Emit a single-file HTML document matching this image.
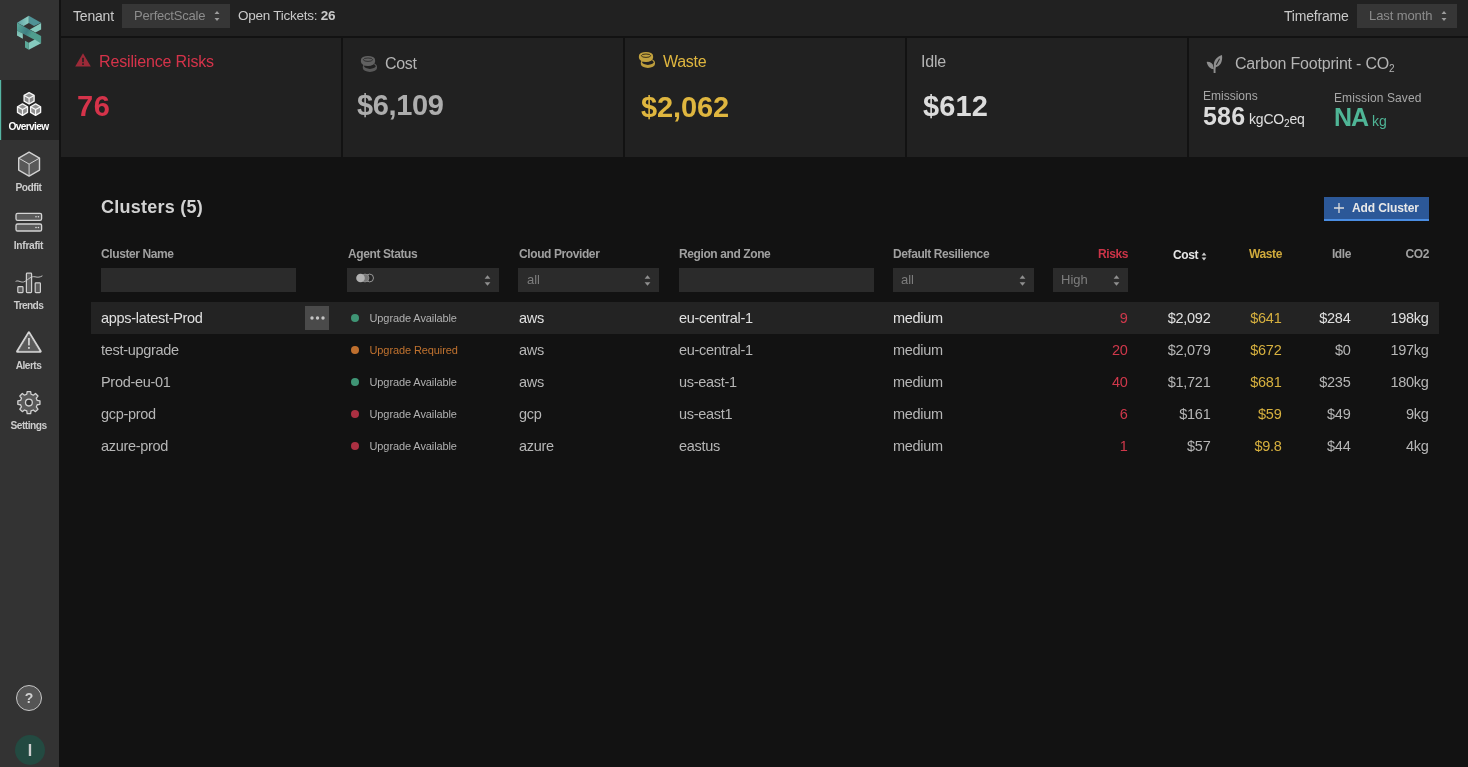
<!DOCTYPE html>
<html lang="en">
<head>
<meta charset="utf-8">
<title>PerfectScale - Overview</title>
<style>
*{box-sizing:border-box;margin:0;padding:0}
html,body{width:1468px;height:767px;overflow:hidden;background:#121212;}
body{font-family:"Liberation Sans",sans-serif;color:#d6d6d6;position:relative;font-size:14px;}
.abs{position:absolute;white-space:nowrap;}
/* sidebar */
#side{position:absolute;left:0;top:0;width:59px;height:767px;background:#333333;}
#side .item{position:absolute;left:-1px;width:59px;text-align:center;font-size:10.2px;font-weight:bold;color:#cccccc;letter-spacing:-0.5px}
#side .active{position:absolute;left:0;top:80px;width:59px;height:60px;background:linear-gradient(90deg,#55b5a3 0,#55b5a3 1px,#2d3d3a 1px,#2d3d3a 2px,#242424 2px);}
#side svg{position:absolute;}
/* topbar */
#top{position:absolute;left:61px;top:0;width:1407px;height:36px;background:#212121;}
.sel{position:absolute;background:#363636;color:#8c8c8c;font-size:13px;height:24px;line-height:24px;}
.sel .arr{position:absolute;right:10px;top:7px;width:6px;height:10px;}
/* cards */
.card{position:absolute;top:38px;height:119px;width:280px;background:#212121;}
.t16{font-size:16px;}
.big{font-size:29px;font-weight:bold;letter-spacing:-0.35px}
/* table */
.th{position:absolute;top:247px;font-size:12px;font-weight:bold;color:#a0a0a0;white-space:nowrap;line-height:14px;letter-spacing:-0.4px}
.flt{position:absolute;top:268px;height:24px;background:#2b2b2b;color:#7d7d7d;font-size:13px;line-height:24px;padding-left:8px}
.row{position:absolute;left:91px;width:1348px;height:32px;font-size:14.5px;line-height:32px;color:#b6b6b6;}
.row span{position:absolute;top:0;white-space:nowrap;letter-spacing:-0.3px}
.row .r{text-align:right;margin-right:0.6px}
.row .red{color:#cf384b}
.row .yel{color:#d6b03f}
.row .st{font-size:11px;color:#b0b0b0;left:278.5px;letter-spacing:-0.1px}
.row .dot{position:absolute;left:259.5px;top:12px;width:8px;height:8px;border-radius:50%;}
.red{color:#d5334a}
.yel{color:#dfb63f}
</style>
</head>
<body>
<div id="side">
<div class="active"></div>
<svg style="left:0;top:0" width="59" height="60" viewBox="0 0 59 60">
<defs><linearGradient id="lg1" x1="0" y1="0" x2="1" y2="0"><stop offset="0" stop-color="#5c9fa3"/><stop offset="1" stop-color="#8fd0c4"/></linearGradient>
<linearGradient id="lg2" x1="0" y1="0" x2="0" y2="1"><stop offset="0" stop-color="#6cb3a8"/><stop offset="1" stop-color="#9ad6ca"/></linearGradient>
<linearGradient id="lg3" x1="0" y1="0" x2="1" y2="0.55"><stop offset="0" stop-color="#5aaa9a"/><stop offset="0.5" stop-color="#3f7f82"/><stop offset="0.7" stop-color="#4f9d8e"/><stop offset="1" stop-color="#4f9d8e"/></linearGradient></defs>
<polygon points="17,22.7 28.8,15.8 28.8,23 23.6,26" fill="url(#lg1)"/>
<polygon points="28.8,15.8 41.1,22.7 34,26 28.8,23" fill="#4f9296"/>
<polygon points="29.9,29.5 41.1,23 41.1,29.5 35.4,32.5" fill="#84c9bd"/>
<polygon points="17,22.7 41.1,36.1 41.1,43.2 17,30.6" fill="url(#lg3)"/>
<polygon points="17,30.6 22.8,33.6 22.8,38.8 17,35.6" fill="url(#lg2)"/>
<polygon points="25,40.8 28.8,42.7 28.8,49.8 25,47.6" fill="#5aa898"/>
<polygon points="28.8,42.7 34.8,39.4 41.1,43.2 41.1,43.2 28.8,49.8" fill="#86cbbf"/>
</svg><svg style="left:0;top:80px" width="59" height="60" viewBox="0 80 59 60"><polygon points="29.10,92.60 34.10,95.45 34.10,101.15 29.10,104.00 24.10,101.15 24.10,95.45" fill="#8e8e8e" stroke="#f6f6f6" stroke-width="1.35" stroke-linejoin="round"/><path d="M24.10 95.45 L29.10 98.30 L34.10 95.45 M29.10 98.30 V104.00" fill="none" stroke="#f6f6f6" stroke-width="1.2"/><polygon points="22.50,103.90 27.50,106.75 27.50,112.45 22.50,115.30 17.50,112.45 17.50,106.75" fill="#8e8e8e" stroke="#f6f6f6" stroke-width="1.35" stroke-linejoin="round"/><path d="M17.50 106.75 L22.50 109.60 L27.50 106.75 M22.50 109.60 V115.30" fill="none" stroke="#f6f6f6" stroke-width="1.2"/><polygon points="35.60,103.90 40.60,106.75 40.60,112.45 35.60,115.30 30.60,112.45 30.60,106.75" fill="#8e8e8e" stroke="#f6f6f6" stroke-width="1.35" stroke-linejoin="round"/><path d="M30.60 106.75 L35.60 109.60 L40.60 106.75 M35.60 109.60 V115.30" fill="none" stroke="#f6f6f6" stroke-width="1.2"/></svg><svg style="left:0;top:140px" width="59" height="60" viewBox="0 140 59 60"><polygon points="29.10,152.10 39.50,158.10 39.50,170.10 29.10,176.10 18.70,170.10 18.70,158.10" fill="#585858" stroke="#d2d2d2" stroke-width="1.4" stroke-linejoin="round"/><path d="M18.70 158.10 L29.10 164.10 L39.50 158.10 M29.10 164.10 V176.10" fill="none" stroke="#d2d2d2" stroke-width="1"/></svg><svg style="left:0;top:200px" width="59" height="60" viewBox="0 200 59 60">
<rect x="16" y="213.3" width="25.6" height="7" rx="1.6" fill="#5a5a5a" stroke="#d4d4d4" stroke-width="1.3"/>
<rect x="16" y="224" width="25.6" height="7" rx="1.6" fill="#5a5a5a" stroke="#d4d4d4" stroke-width="1.3"/>
<circle cx="36" cy="216.8" r="0.8" fill="#ddd"/><circle cx="38.4" cy="216.8" r="0.8" fill="#ddd"/>
<circle cx="36" cy="227.5" r="0.8" fill="#ddd"/><circle cx="38.4" cy="227.5" r="0.8" fill="#ddd"/>
</svg><svg style="left:0;top:260px" width="59" height="60" viewBox="0 260 59 60">
<rect x="17.8" y="286.6" width="5.2" height="6" rx="0.8" fill="#5a5a5a" stroke="#d0d0d0" stroke-width="1.2"/>
<rect x="26.4" y="273.2" width="5.2" height="19.4" rx="0.8" fill="#5a5a5a" stroke="#d0d0d0" stroke-width="1.2"/>
<rect x="35.2" y="282.8" width="5.2" height="9.8" rx="0.8" fill="#5a5a5a" stroke="#d0d0d0" stroke-width="1.2"/>
<path d="M15.6 281.4 C19 279.6 21 283.6 25 281.4 C29 279 31 276 35 276.8 C38 277.6 40 277.2 42.4 275.8" fill="none" stroke="#cfcfcf" stroke-width="0.9"/>
</svg><svg style="left:0;top:320px" width="59" height="60" viewBox="0 320 59 60">
<path d="M28.9 332.6 L40.4 351.5 H17.4 Z" fill="#d4d4d4" stroke="#d4d4d4" stroke-width="2.6" stroke-linejoin="round"/><path d="M28.9 334.2 L38.9 350.7 H18.9 Z" fill="#5a5a5a" stroke="#5a5a5a" stroke-width="0.8" stroke-linejoin="round"/>
<rect x="28.2" y="338" width="1.5" height="7.4" fill="#e8e8e8"/><rect x="28.2" y="347" width="1.5" height="1.8" fill="#e8e8e8"/>
</svg><svg style="left:0;top:380px" width="59" height="60" viewBox="0 380 59 60"><path d="M26.76 394.27 L27.15 391.54 L30.65 391.54 L31.04 394.27 L33.28 395.20 L35.48 393.54 L37.96 396.02 L36.30 398.22 L37.23 400.46 L39.96 400.85 L39.96 404.35 L37.23 404.74 L36.30 406.98 L37.96 409.18 L35.48 411.66 L33.28 410.00 L31.04 410.93 L30.65 413.66 L27.15 413.66 L26.76 410.93 L24.52 410.00 L22.32 411.66 L19.84 409.18 L21.50 406.98 L20.57 404.74 L17.84 404.35 L17.84 400.85 L20.57 400.46 L21.50 398.22 L19.84 396.02 L22.32 393.54 L24.52 395.20 Z" fill="#5a5a5a" stroke="#d2d2d2" stroke-width="1.3" stroke-linejoin="round"/><circle cx="28.9" cy="402.6" r="3.4" fill="#333" stroke="#d2d2d2" stroke-width="1.3"/></svg>
<div class="item" style="top:121px;line-height:12px;color:#fff;letter-spacing:-0.67px">Overview</div>
<div class="item" style="top:182px;line-height:12px;letter-spacing:-0.48px">Podfit</div>
<div class="item" style="top:240px;line-height:12px;letter-spacing:-0.29px">Infrafit</div>
<div class="item" style="top:300px;line-height:12px;letter-spacing:-0.68px">Trends</div>
<div class="item" style="top:360px;line-height:12px;letter-spacing:-0.53px">Alerts</div>
<div class="item" style="top:420px;line-height:12px;letter-spacing:-0.51px">Settings</div>
<div style="position:absolute;left:16px;top:685px;width:26px;height:26px;border-radius:50%;background:#555;border:1px solid #c8c8c8;color:#d0d0d0;font-size:14px;font-weight:bold;line-height:25px;text-align:center">?</div>
<div style="position:absolute;left:15px;top:735px;width:30px;height:30px;border-radius:50%;background:#234a41;color:#cfcfcf;font-size:16px;font-weight:bold;line-height:32px;text-align:center">I</div>
</div>
<div id="top">
<div class="abs" style="left:12px;top:8px;font-size:14px;line-height:16px;color:#c9c9c9;letter-spacing:-0.2px">Tenant</div>
<div class="sel" style="left:61px;top:4px;width:108px;padding-left:12px;letter-spacing:-0.2px">PerfectScale<svg class="arr" viewBox="0 0 6 10"><path d="M3 0 L5.5 3.1 H0.5 Z M3 10 L5.5 6.9 H0.5 Z" fill="#9c9c9c"/></svg></div>
<div class="abs" style="left:177px;top:8px;font-size:13.5px;line-height:16px;color:#c9c9c9;letter-spacing:-0.25px">Open Tickets: <b>26</b></div>
<div class="abs" style="left:1223px;top:8px;font-size:14px;line-height:16px;color:#c9c9c9;letter-spacing:-0.2px">Timeframe</div>
<div class="sel" style="left:1296px;top:4px;width:100px;padding-left:12px;letter-spacing:-0.1px">Last month<svg class="arr" viewBox="0 0 6 10"><path d="M3 0 L5.5 3.1 H0.5 Z M3 10 L5.5 6.9 H0.5 Z" fill="#9c9c9c"/></svg></div>
</div>
<div id="cards">
<div class="card" style="left:61px"><svg class="abs" style="left:14px;top:15px" width="16" height="14" viewBox="0 0 16 14"><path d="M8 0.3 L15.8 13.6 H0.2 Z" fill="#9c2a38"/><rect x="7.2" y="4.8" width="1.6" height="4.4" fill="#212121"/><rect x="7.2" y="10.3" width="1.6" height="1.7" fill="#212121"/></svg>
<div class="abs t16 red" style="left:38px;top:14px;line-height:20px;letter-spacing:-0.15px">Resilience Risks</div>
<div class="abs big red" style="left:16px;top:52px;line-height:32px;font-size:29px;letter-spacing:0.5px">76</div>
</div>
<div class="card" style="left:343px">
<div class="abs" style="left:17px;top:17px"><svg width="18" height="18" viewBox="0 0 18 18"><path d="M2.8 11.5 a7.1 3.9 0 0 1 14.2 0 v1.6 a7.1 3.9 0 0 1 -14.2 0 z" fill="#595959"/><ellipse cx="9.9" cy="11.2" rx="5.6" ry="2.7" fill="#212121"/><path d="M0.9 5 a7.1 4.1 0 0 1 14.2 0 v1.8 a7.1 4.1 0 0 1 -14.2 0 z" fill="#616161"/><ellipse cx="8" cy="4.7" rx="4.6" ry="1.7" fill="#616161" stroke="#2a2a2a" stroke-width="0.9"/></svg></div>
<div class="abs t16" style="left:42px;top:16px;line-height:20px;color:#b4b4b4;letter-spacing:-0.3px">Cost</div>
<div class="abs big" style="left:14px;top:51px;line-height:32px;color:#adadad">$6,109</div>
</div>
<div class="card" style="left:625px">
<div class="abs" style="left:13px;top:13px"><svg width="18" height="18" viewBox="0 0 18 18"><path d="M2.8 11.5 a7.1 3.9 0 0 1 14.2 0 v1.6 a7.1 3.9 0 0 1 -14.2 0 z" fill="#bd9d3c"/><ellipse cx="9.9" cy="11.2" rx="5.6" ry="2.7" fill="#212121"/><path d="M0.9 5 a7.1 4.1 0 0 1 14.2 0 v1.8 a7.1 4.1 0 0 1 -14.2 0 z" fill="#c2a23e"/><ellipse cx="8" cy="4.7" rx="4.6" ry="1.7" fill="#c2a23e" stroke="#2a2416" stroke-width="0.9"/></svg></div>
<div class="abs t16 yel" style="left:38px;top:14px;line-height:20px;letter-spacing:-0.3px">Waste</div>
<div class="abs big yel" style="left:16px;top:53px;line-height:32px;letter-spacing:-0.1px">$2,062</div>
</div>
<div class="card" style="left:907px">
<div class="abs t16" style="left:14px;top:14px;line-height:20px;color:#b4b4b4;letter-spacing:-0.2px">Idle</div>
<div class="abs big" style="left:16px;top:52px;line-height:32px;color:#dcdcdc;letter-spacing:0.1px">$612</div>
</div>
<div class="card" style="left:1189px;width:279px">
<div class="abs" style="left:16px;top:16px"><svg width="19" height="20" viewBox="0 0 19 20"><path d="M17 0.9 C11.5 3 8.2 6.5 8.9 12.6 L10.4 13.3 C15 12 17.9 8 17 0.9 Z" fill="#8e8e8e"/><path d="M1.7 7.9 C5 7.6 7.8 9.2 8.6 13 L8.8 15.2 C5.4 14.8 2.6 12.6 1.7 7.9 Z" fill="#8e8e8e"/><path d="M10.2 11.6 C9.4 14 9.4 16.4 9.6 19" stroke="#8e8e8e" stroke-width="1.9" fill="none"/><path d="M14.6 4.8 L11.3 10.8" stroke="#2a2a2a" stroke-width="1.1"/></svg></div>
<div class="abs t16" style="left:46px;top:16px;line-height:20px;color:#b4b4b4;letter-spacing:-0.2px">Carbon Footprint - CO<sub style="font-size:10px;vertical-align:-3px;line-height:0">2</sub></div>
<div class="abs" style="left:14px;top:51px;font-size:12px;line-height:14px;color:#a8a8a8">Emissions</div>
<div class="abs" style="left:14px;top:64px;font-size:25px;line-height:28px;font-weight:bold;color:#dcdcdc;letter-spacing:0.2px">586</div>
<div class="abs" style="left:60px;top:72px;font-size:14px;line-height:18px;color:#e0e0e0;letter-spacing:-0.2px">kgCO<sub style="font-size:10px;vertical-align:-3px;line-height:0">2</sub>eq</div>
<div class="abs" style="left:145px;top:53px;font-size:12px;line-height:14px;color:#a8a8a8;letter-spacing:0.1px">Emission Saved</div>
<div class="abs" style="left:145px;top:65px;font-size:25px;line-height:28px;font-weight:bold;color:#4fb596;letter-spacing:-1px">NA</div>
<div class="abs" style="left:183px;top:74px;font-size:14px;line-height:18px;color:#4fb596">kg</div>
</div>
</div>
<div id="main">
<div class="abs" style="left:101px;top:196px;font-size:18px;line-height:22px;font-weight:bold;color:#d2d2d2;letter-spacing:0.25px">Clusters (5)</div>
<div class="abs" style="left:1324px;top:197px;width:105px;height:24px;background:#2c5898;border-bottom:2px solid #4a8de2;color:#e8e8e8;font-size:12px;font-weight:bold;line-height:23px;letter-spacing:-0.1px">
<svg style="position:absolute;left:10px;top:6px" width="10" height="10" viewBox="0 0 10 10"><path d="M5 0 V10 M0 5 H10" stroke="#dcdcdc" stroke-width="1.3"/></svg>
<span style="position:absolute;left:28px;top:0">Add Cluster</span></div>
<div class="th" style="left:101px">Cluster Name</div>
<div class="th" style="left:348px">Agent Status</div>
<div class="th" style="left:519px">Cloud Provider</div>
<div class="th" style="left:679px">Region and Zone</div>
<div class="th" style="left:893px">Default Resilience</div>
<div class="th" style="right:340px;color:#cc3448">Risks</div>
<div class="th" style="left:1173px;top:248px;color:#e6e6e6">Cost<svg style="position:absolute;left:28px;top:4px" width="6" height="9" viewBox="0 0 6 9"><path d="M3 0.6 L5.4 3.4 H0.6 Z M3 8.4 L5.4 5.6 H0.6 Z" fill="#cfcfcf"/></svg></div>
<div class="th" style="right:186px;color:#d0aa3c">Waste</div>
<div class="th" style="right:117px">Idle</div>
<div class="th" style="right:39px">CO2</div>
<div class="flt" style="left:101px;width:195px"></div>
<div class="flt" style="left:347px;width:152px"><svg style="position:absolute;left:8.5px;top:4.5px" width="19" height="10" viewBox="0 0 19 10"><circle cx="13.6" cy="5" r="3.9" fill="#262626" stroke="#a4a4a4" stroke-width="0.9"/><circle cx="9" cy="5" r="4" fill="#767676" stroke="#a0a0a0" stroke-width="0.6"/><circle cx="4.5" cy="5" r="4.3" fill="#b2b2b2"/></svg><svg style="position:absolute;right:8.5px;top:6.5px" width="7" height="11" viewBox="0 0 7 11"><path d="M3.5 0.2 L6.4 3.7 H0.6 Z M3.5 10.8 L6.4 7.3 H0.6 Z" fill="#909090"/></svg></div>
<div class="flt" style="left:518px;width:141px;padding-left:9px">all<svg style="position:absolute;right:8.5px;top:6.5px" width="7" height="11" viewBox="0 0 7 11"><path d="M3.5 0.2 L6.4 3.7 H0.6 Z M3.5 10.8 L6.4 7.3 H0.6 Z" fill="#909090"/></svg></div>
<div class="flt" style="left:679px;width:195px"></div>
<div class="flt" style="left:893px;width:141px">all<svg style="position:absolute;right:8.5px;top:6.5px" width="7" height="11" viewBox="0 0 7 11"><path d="M3.5 0.2 L6.4 3.7 H0.6 Z M3.5 10.8 L6.4 7.3 H0.6 Z" fill="#909090"/></svg></div>
<div class="flt" style="left:1053px;width:75px">High<svg style="position:absolute;right:8.5px;top:6.5px" width="7" height="11" viewBox="0 0 7 11"><path d="M3.5 0.2 L6.4 3.7 H0.6 Z M3.5 10.8 L6.4 7.3 H0.6 Z" fill="#909090"/></svg></div>
<div class="row" style="top:302px;background:#232323;color:#e0e0e0"><span style="left:10px">apps-latest-Prod</span><i style="position:absolute;left:214px;top:4px;width:24px;height:24px;background:#4a4a4a"></i><svg style="position:absolute;left:219px;top:14px" width="15" height="4" viewBox="0 0 15 4"><circle cx="2" cy="2" r="1.7" fill="#c4c4c4"/><circle cx="7.5" cy="2" r="1.7" fill="#c4c4c4"/><circle cx="13" cy="2" r="1.7" fill="#c4c4c4"/></svg><i class="dot" style="background:#3f9575"></i><span class="st" style="">Upgrade Available</span><span style="left:428px">aws</span><span style="left:588px">eu-central-1</span><span style="left:802px">medium</span><span class="r red" style="right:311px">9</span><span class="r" style="right:228px">$2,092</span><span class="r yel" style="right:157px">$641</span><span class="r" style="right:88px">$284</span><span class="r" style="right:10px">198kg</span></div>
<div class="row" style="top:334px"><span style="left:10px">test-upgrade</span><i class="dot" style="background:#be6f2e"></i><span class="st" style="color:#c0722f">Upgrade Required</span><span style="left:428px">aws</span><span style="left:588px">eu-central-1</span><span style="left:802px">medium</span><span class="r red" style="right:311px">20</span><span class="r" style="right:228px">$2,079</span><span class="r yel" style="right:157px">$672</span><span class="r" style="right:88px">$0</span><span class="r" style="right:10px">197kg</span></div>
<div class="row" style="top:366px"><span style="left:10px">Prod-eu-01</span><i class="dot" style="background:#3f9575"></i><span class="st" style="">Upgrade Available</span><span style="left:428px">aws</span><span style="left:588px">us-east-1</span><span style="left:802px">medium</span><span class="r red" style="right:311px">40</span><span class="r" style="right:228px">$1,721</span><span class="r yel" style="right:157px">$681</span><span class="r" style="right:88px">$235</span><span class="r" style="right:10px">180kg</span></div>
<div class="row" style="top:398px"><span style="left:10px">gcp-prod</span><i class="dot" style="background:#ab3042"></i><span class="st" style="">Upgrade Available</span><span style="left:428px">gcp</span><span style="left:588px">us-east1</span><span style="left:802px">medium</span><span class="r red" style="right:311px">6</span><span class="r" style="right:228px">$161</span><span class="r yel" style="right:157px">$59</span><span class="r" style="right:88px">$49</span><span class="r" style="right:10px">9kg</span></div>
<div class="row" style="top:430px"><span style="left:10px">azure-prod</span><i class="dot" style="background:#ab3042"></i><span class="st" style="">Upgrade Available</span><span style="left:428px">azure</span><span style="left:588px">eastus</span><span style="left:802px">medium</span><span class="r red" style="right:311px">1</span><span class="r" style="right:228px">$57</span><span class="r yel" style="right:157px">$9.8</span><span class="r" style="right:88px">$44</span><span class="r" style="right:10px">4kg</span></div>
</div>
</body>
</html>
